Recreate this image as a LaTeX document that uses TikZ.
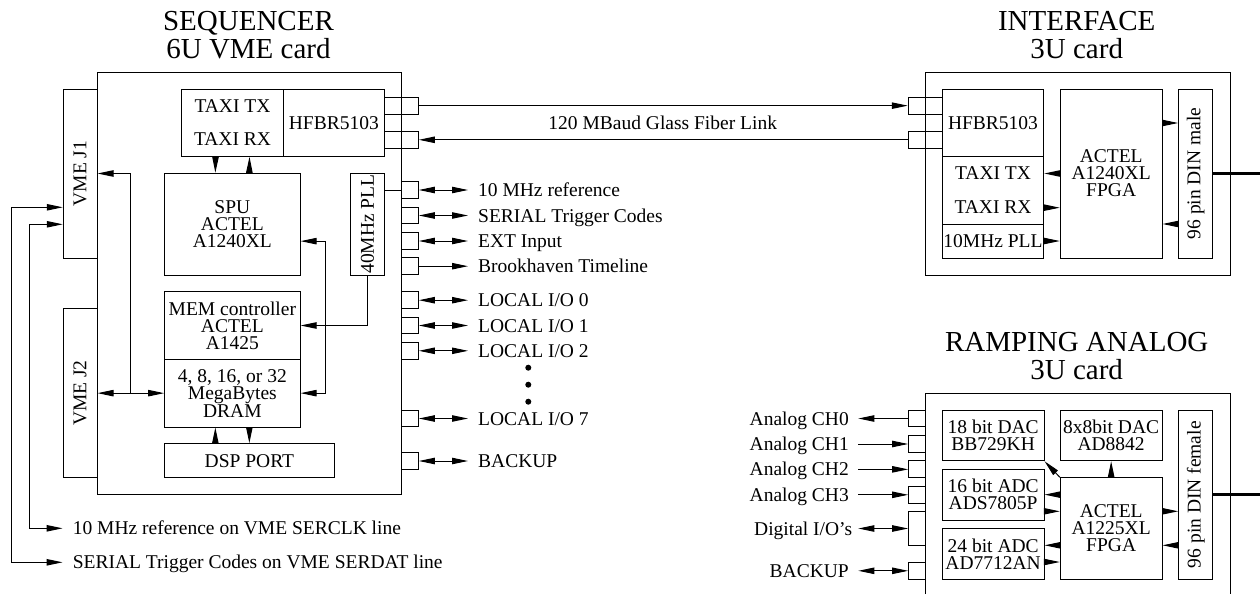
\documentclass[tikz,border=0pt]{standalone}
\usepackage{fontspec}
\setmainfont{Liberation Serif}
\usepackage{tikz}
\usetikzlibrary{arrows.meta}
\usetikzlibrary{positioning}

\begin{document}
\begin{tikzpicture}[x=1pt,y=-1pt,line width=1pt,>={Triangle[length=16pt,width=6.4pt]},
	every node/.style={font=\fontsize{19.5}{17}\selectfont},
	blk/.style={draw,rectangle,inner sep=0pt,align=center},
	port/.style={blk,minimum width=16.6pt,minimum height=16.8pt},
	fiber/.style={blk,minimum width=34pt,minimum height=16.8pt},
	vtext/.style={inner sep=0pt,rotate=90},
	title/.style={inner sep=0pt,align=center,font=\fontsize{29}{27.5}\selectfont},
	lbl/.style={inner ysep=0pt,inner xsep=9.7pt,text height=13pt,text depth=0pt},
	dot/.style={circle,fill,inner sep=0pt,minimum size=6pt}]
	\useasboundingbox (0,0) rectangle (1260,594);

	\node [title] (seqTitle) at (248.5,35) {SEQUENCER\\6U VME card};
	\node [blk,minimum width=304.7pt,minimum height=422.3pt] (seqCard) at (249.35,283.15) {};
	\node [blk,minimum width=33.7pt,minimum height=169pt] (vmeA) at (80.15,173.5) {};
	\node [vtext] (vmeAtxt) at (vmeA) {VME J1};
	\node [blk,minimum width=33.7pt,minimum height=169.4pt] (vmeB) at (80.15,393.15) {};
	\node [vtext] (vmeBtxt) at (vmeB) {VME J2};
	\node [blk,minimum width=101.6pt,minimum height=67.3pt] (taxi) at (232.5,122.65) {TAXI TX\\[16.6pt]TAXI RX};
	\node [blk,minimum width=101pt,minimum height=67.3pt] (hfbr) at (333.8,122.65) {HFBR5103};
	\node [blk,minimum width=135.3pt,minimum height=101.7pt] (spu) at (232.35,224.15) {SPU\\ACTEL\\A1240XL};
	\node [blk,minimum width=33.6pt,minimum height=101.7pt] (pll) at (367.5,224.15) {};
	\node [vtext] (plltxt) at (pll) {40MHz PLL};
	\node [blk,minimum width=135.3pt,minimum height=67.6pt] (mem) at (232.35,325.5) {MEM controller\\ACTEL\\A1425};
	\node [blk,minimum width=135.3pt,minimum height=67.7pt] (dram) at (232.35,393.15) {4, 8, 16, or 32\\MegaBytes\\DRAM};
	\node [blk,minimum width=169.3pt,minimum height=34pt] (dsp) at (249.35,460.7) {DSP PORT};

	\node [fiber] (fibTx) at (401.3,105.65) {};
	\node [fiber] (fibRx) at (401.3,139.8) {};
	\node [port] (pRef) at (410,190) {};
	\node [port] (pSer) at (410,215.5) {};
	\node [port] (pExt) at (410,241) {};
	\node [port] (pBnl) at (410,266.2) {};
	\node [port] (pLoc0) at (410,300.2) {};
	\node [port] (pLoc1) at (410,325.5) {};
	\node [port] (pLoc2) at (410,350.8) {};
	\node [port] (pLoc7) at (410,418.5) {};
	\node [port] (pBak) at (410,461) {};

	\node [lbl,anchor=west] (lbRef) at (468,190) {10 MHz reference};
	\node [lbl,anchor=west] (lbSer) at (468,215.5) {SERIAL Trigger Codes};
	\node [lbl,anchor=west] (lbExt) at (468,241) {EXT Input};
	\node [lbl,anchor=west] (lbBnl) at (468,266.2) {Brookhaven Timeline};
	\node [lbl,anchor=west] (lbLoc0) at (468,300.2) {LOCAL I/O 0};
	\node [lbl,anchor=west] (lbLoc1) at (468,325.5) {LOCAL I/O 1};
	\node [lbl,anchor=west] (lbLoc2) at (468,350.8) {LOCAL I/O 2};
	\node [lbl,anchor=west] (lbLoc7) at (468,418.5) {LOCAL I/O 7};
	\node [lbl,anchor=west] (lbBak) at (468,461) {BACKUP};
	\node [dot] (dotA) at (528.3,367.7) {};
	\node [dot] (dotB) at (528.3,384.7) {};
	\node [dot] (dotC) at (528.3,401.7) {};
	\node [lbl,anchor=west] (lbClk) at (62.6,528.3) {10 MHz reference on VME SERCLK line};
	\node [lbl,anchor=west] (lbDat) at (62.6,562.3) {SERIAL Trigger Codes on VME SERDAT line};
	\node [lbl] (lbFiber) at (662.7,122.8) {120 MBaud Glass Fiber Link};

	\node [title] (ifTitle) at (1076.7,35) {INTERFACE\\3U card};
	\node [blk,minimum width=305pt,minimum height=203pt] (ifCard) at (1077.5,173.5) {};
	\node [fiber] (ifFibTx) at (925.3,105.65) {};
	\node [fiber] (ifFibRx) at (925.3,139.8) {};
	\node [blk,minimum width=101.4pt,minimum height=67.3pt] (ifHfbr) at (993,122.65) {HFBR5103};
	\node [blk,minimum width=101.4pt,minimum height=67.7pt] (ifTaxi) at (993,190.15) {TAXI TX\\[16.6pt]TAXI RX};
	\node [blk,minimum width=101.4pt,minimum height=34pt] (ifPll) at (993,241) {10MHz PLL};
	\node [blk,minimum width=101.7pt,minimum height=169pt] (ifFpga) at (1111.15,173.5) {ACTEL\\A1240XL\\FPGA};
	\node [blk,minimum width=34pt,minimum height=169pt] (ifDin) at (1195.7,173.5) {};
	\node [vtext] (ifDintxt) at (ifDin) {96 pin DIN male};
	\coordinate (ifEnd) at (1259.5,173.5);

	\node [title] (rampTitle) at (1076.7,356) {RAMPING ANALOG\\3U card};
	\draw (925,594) |- (1230,393.3) -- (1230,594);
	\node [port,minimum width=16.3pt] (anA) at (916.85,418.5) {};
	\node [port,minimum width=16.3pt] (anB) at (916.85,444) {};
	\node [port,minimum width=16.3pt] (anC) at (916.85,469.35) {};
	\node [port,minimum width=16.3pt] (anD) at (916.85,494.8) {};
	\node [port,minimum width=16.3pt,minimum height=33.6pt] (anDig) at (916.85,528.5) {};
	\node [port,minimum width=16.3pt] (anBak) at (916.85,570.8) {};
	\node [blk,minimum width=101.7pt,minimum height=50.7pt] (dacA) at (993.15,435.35) {18 bit DAC\\BB729KH};
	\node [blk,minimum width=101.7pt,minimum height=50.7pt] (dacB) at (1111.15,435.35) {8x8bit DAC\\AD8842};
	\node [blk,minimum width=101.7pt,minimum height=50.7pt] (adcA) at (993.15,494.65) {16 bit ADC\\ADS7805P};
	\node [blk,minimum width=101.7pt,minimum height=51pt] (adcB) at (993.15,553.8) {24 bit ADC\\AD7712AN};
	\node [blk,minimum width=101.7pt,minimum height=101.6pt] (rFpga) at (1111.15,528.5) {ACTEL\\A1225XL\\FPGA};
	\node [blk,minimum width=34pt,minimum height=169.3pt] (rDin) at (1195.7,494.65) {};
	\node [vtext] (rDintxt) at (rDin) {96 pin DIN female};
	\coordinate (rEnd) at (1259.5,494.65);
	\node [lbl,anchor=east,inner xsep=9pt] (lbChA) at (858.3,418.5) {Analog CH0};
	\node [lbl,anchor=east,inner xsep=9pt] (lbChB) at (858.3,444) {Analog CH1};
	\node [lbl,anchor=east,inner xsep=9pt] (lbChC) at (858.3,469.35) {Analog CH2};
	\node [lbl,anchor=east,inner xsep=9pt] (lbChD) at (858.3,494.8) {Analog CH3};
	\node [lbl,anchor=east,inner xsep=5.6pt] (lbDig) at (858.3,528.5) {Digital I/O's};
	\node [lbl,anchor=east,inner xsep=9pt] (lbRBak) at (858.3,570.8) {BACKUP};

	\draw [->] ([xshift=-17pt]taxi.south) -- ([xshift=-17pt]spu.north);
	\draw [->] ([xshift=17pt]spu.north) -- ([xshift=17pt]taxi.south);
	\draw [->] ([xshift=-34pt]dsp.north) -- ([xshift=-17pt]dram.south);
	\draw [->] ([xshift=17pt]dram.south) -- (dsp.north);
	\draw [<->] (vmeB.east) -- (dram.west);
	\coordinate (vmeBus) at (130.7,393.15);
	\draw [->] (vmeBus) |- (vmeA.east);
	\draw [<->] ([yshift=-17pt]spu.east) -- ++(25.3,0) |- (dram.east);
	\draw [->] (pll.south) |- (mem.east);
	\draw [<->] ([yshift=-33.8pt]vmeA.west) -- ++(-51,0) |- (lbDat.west);
	\draw [<->] ([yshift=-50.8pt]vmeA.west) -- ++(-33.6,0) |- (lbClk.west);

	\draw [->] (fibTx.east) -- (ifFibTx.west);
	\draw [->] (ifFibRx.west) -- (fibRx.east);
	\draw (pll.east |- pRef.west) -- (pRef.west);
	\draw [<->] (pRef.east) -- (lbRef.west);
	\draw [<->] (pSer.east) -- (lbSer.west);
	\draw [<->] (pExt.east) -- (lbExt.west);
	\draw [->] (pBnl.east) -- (lbBnl.west);
	\draw [<->] (pLoc0.east) -- (lbLoc0.west);
	\draw [<->] (pLoc1.east) -- (lbLoc1.west);
	\draw [<->] (pLoc2.east) -- (lbLoc2.west);
	\draw [<->] (pLoc7.east) -- (lbLoc7.west);
	\draw [<->] (pBak.east) -- (lbBak.west);

	\draw [->] ([yshift=50.5pt]ifFpga.east) -- ([yshift=50.5pt]ifDin.west);
	\draw [->] ([yshift=-50.5pt]ifDin.west) -- ([yshift=-50.5pt]ifFpga.east);
	\draw [->] (ifFpga.west) -- ([yshift=16.65pt]ifTaxi.east);
	\draw [->] ([yshift=-17.5pt]ifTaxi.east) -- ([yshift=-34.2pt]ifFpga.west);
	\draw [->] (ifPll.east) -- ([yshift=-67.5pt]ifFpga.west);
	\draw [line width=3pt] (ifDin.east) -- (ifEnd);

	\draw [->] (anA.west) -- (lbChA.east);
	\draw [->] (lbChB.east) -- (anB.west);
	\draw [->] (lbChC.east) -- (anC.west);
	\draw [->] (lbChD.east) -- (anD.west);
	\draw [<->] (lbDig.east) -- (anDig.west);
	\draw [<->] (lbRBak.east) -- (anBak.west);
	\draw [->] (rFpga.north) -- (dacB.south);
	\draw [->] (rFpga.north west) -- (dacA.south east);
	\draw [->] ([yshift=33.85pt]rFpga.west) -- (adcA.east);
	\draw [->] ([yshift=-16.65pt]adcA.east) -- ([yshift=17.2pt]rFpga.west);
	\draw [->] ([yshift=-16.8pt]rFpga.west) -- ([yshift=8.5pt]adcB.east);
	\draw [->] ([yshift=-8.2pt]adcB.east) -- ([yshift=-33.5pt]rFpga.west);
	\draw [->] ([yshift=17.2pt]rFpga.east) -- ([yshift=-16.65pt]rDin.west);
	\draw [->] ([yshift=-50.65pt]rDin.west) -- ([yshift=-16.8pt]rFpga.east);
	\draw [line width=3pt] (rDin.east) -- (rEnd);
\end{tikzpicture}
\end{document}
